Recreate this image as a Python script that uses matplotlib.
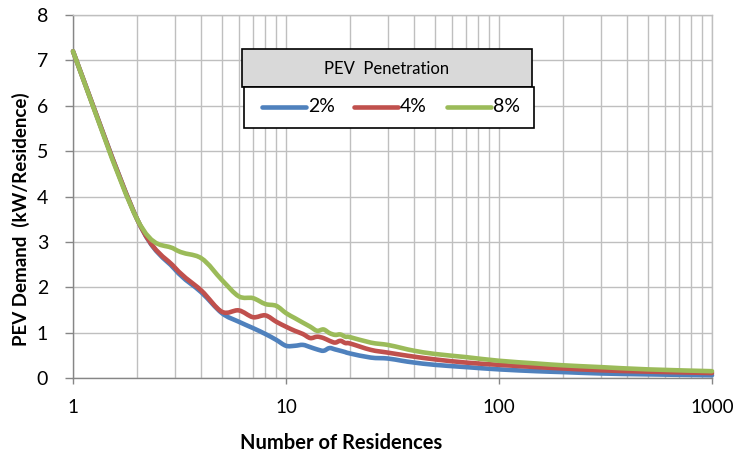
import matplotlib
matplotlib.use("Agg")
import numpy as np
import matplotlib.pyplot as plt
from matplotlib.patches import Rectangle, PathPatch
from matplotlib.path import Path
from matplotlib.lines import Line2D

# Number of residences sharing a transformer
residences = [1, 2, 3, 4, 5, 6, 7, 8, 9, 10, 11, 12, 13, 14, 15, 16, 17, 18, 19, 20,
              25, 30, 35, 40, 50, 70, 100, 150, 200, 300, 500, 1000]

# Coincident PEV demand per residence (kW) at each penetration level
demand_2pct = [7.2, 3.5, 2.40, 1.89, 1.43, 1.24, 1.10, 0.97, 0.84, 0.71, 0.71, 0.73, 0.68,
               0.63, 0.60, 0.66, 0.63, 0.60, 0.57, 0.54, 0.45, 0.43, 0.38, 0.34, 0.29,
               0.24, 0.19, 0.15, 0.13, 0.10, 0.08, 0.06]
demand_4pct = [7.2, 3.5, 2.44, 1.93, 1.46, 1.49, 1.34, 1.38, 1.24, 1.13, 1.04, 0.97, 0.88,
               0.91, 0.88, 0.82, 0.78, 0.82, 0.77, 0.76, 0.62, 0.56, 0.51, 0.47, 0.41,
               0.34, 0.29, 0.24, 0.21, 0.17, 0.14, 0.11]
demand_8pct = [7.2, 3.5, 2.84, 2.64, 2.16, 1.80, 1.76, 1.63, 1.59, 1.43, 1.32, 1.22, 1.13,
               1.04, 1.07, 0.99, 0.95, 0.96, 0.91, 0.90, 0.78, 0.73, 0.66, 0.60, 0.53,
               0.46, 0.38, 0.32, 0.28, 0.24, 0.19, 0.15]

series_labels = ["2%", "4%", "8%"]
series_colors = ["#4f81bd", "#c0504d", "#9bbb59"]
legend_title = "PEV  Penetration"
x_ticks = [1, 10, 100, 1000]
x_tick_labels = ["1", "10", "100", "1000"]
y_ticks = [0, 1, 2, 3, 4, 5, 6, 7, 8]

FONT = "Lato"
W, H = 733, 457
LW = 3.3


def smooth_path(xs, ys, tension=1 / 6):
    """Spreadsheet-style smoothed line: cubic Bezier segments through every
    data point, with control points built in log-x space."""
    lx = np.log10(np.asarray(xs, float))
    y = np.asarray(ys, float)
    n = len(lx)
    verts = [(xs[0], y[0])]
    codes = [Path.MOVETO]
    for i in range(n - 1):
        p0 = max(i - 1, 0)
        p3 = min(i + 2, n - 1)
        c1 = (lx[i] + (lx[i + 1] - lx[p0]) * tension, y[i] + (y[i + 1] - y[p0]) * tension)
        c2 = (lx[i + 1] - (lx[p3] - lx[i]) * tension, y[i + 1] - (y[p3] - y[i]) * tension)
        verts += [(10 ** c1[0], c1[1]), (10 ** c2[0], c2[1]), (xs[i + 1], y[i + 1])]
        codes += [Path.CURVE4] * 3
    return Path(verts, codes)


fig = plt.figure(figsize=(W / 100, H / 100), dpi=100)
ax = fig.add_axes([73 / W, (H - 378) / H, (712 - 73) / W, (378 - 15) / H])

ax.set_xscale("log")
ax.set_xlim(1, 1000)
ax.set_ylim(0, 8)

for vals, col in zip([demand_2pct, demand_4pct, demand_8pct], series_colors):
    patch = PathPatch(smooth_path(residences, vals), facecolor="none", edgecolor=col,
                      lw=LW, joinstyle="round", capstyle="round", zorder=3,
                      clip_on=False)
    ax.add_patch(patch)

ax.set_xticks(x_ticks)
ax.set_xticklabels(x_tick_labels)
ax.set_yticks(y_ticks)
ax.xaxis.set_minor_formatter(matplotlib.ticker.NullFormatter())
ax.xaxis.set_minor_locator(matplotlib.ticker.LogLocator(base=10, subs=range(2, 10)))

grid_col = "#bfbfbf"
ax.grid(True, which="both", axis="x", color=grid_col, lw=1.0, zorder=0)
ax.grid(True, which="major", axis="y", color=grid_col, lw=1.0, zorder=0)
ax.set_axisbelow(True)

axis_col = "#868686"
for side in ["left", "bottom"]:
    ax.spines[side].set_color(axis_col)
    ax.spines[side].set_linewidth(1.0)
for side in ["top", "right"]:
    ax.spines[side].set_color(grid_col)
    ax.spines[side].set_linewidth(1.0)

ax.tick_params(axis="y", which="major", length=6, width=1.0, color=axis_col,
               pad=12, labelsize=14)
ax.tick_params(axis="x", which="major", length=4, width=1.0, color=axis_col,
               pad=11, labelsize=13.5)
ax.tick_params(axis="x", which="minor", length=0)
for lab in ax.get_xticklabels() + ax.get_yticklabels():
    lab.set_fontfamily(FONT)
    lab.set_color("#000000")

fig.text(21 / W, 1 - 219 / H, "PEV Demand  (kW/Residence)", rotation=90,
         ha="center", va="center", fontsize=13.5, fontweight="bold", family=FONT)
fig.text(341 / W, 1 - 443 / H, "Number of Residences", ha="center", va="center",
         fontsize=14.5, fontweight="bold", family=FONT)


# Legend drawn as a titled box in figure pixel coordinates
def px(x, y):
    return x / W, 1 - y / H


tx, ty = px(242, 87)
fig.patches.append(Rectangle((tx, ty), (532 - 242) / W, (87 - 49) / H,
                             transform=fig.transFigure, facecolor="#d9d9d9",
                             edgecolor="black", lw=1.2, zorder=5))
bx, by = px(244, 128)
fig.patches.append(Rectangle((bx, by), (534 - 244) / W, (128 - 87) / H,
                             transform=fig.transFigure, facecolor="white",
                             edgecolor="black", lw=1.2, zorder=5))
cx, cy = px(387, 69)
fig.text(cx, cy, legend_title, ha="center", va="center", fontsize=12,
         family=FONT, zorder=6)

entry_x = [262, 354, 447]
for x0, lab, col in zip(entry_x, series_labels, series_colors):
    x1 = x0 + 44
    l0 = px(x0, 107)
    l1 = px(x1, 107)
    fig.lines.append(Line2D([l0[0], l1[0]], [l0[1], l1[1]], transform=fig.transFigure,
                            color=col, lw=LW, solid_capstyle="round", zorder=6))
    t = px(x1 + 2, 107)
    fig.text(t[0], t[1], lab, ha="left", va="center", fontsize=14, family=FONT,
             zorder=6)

fig.savefig("out.png", dpi=100)
